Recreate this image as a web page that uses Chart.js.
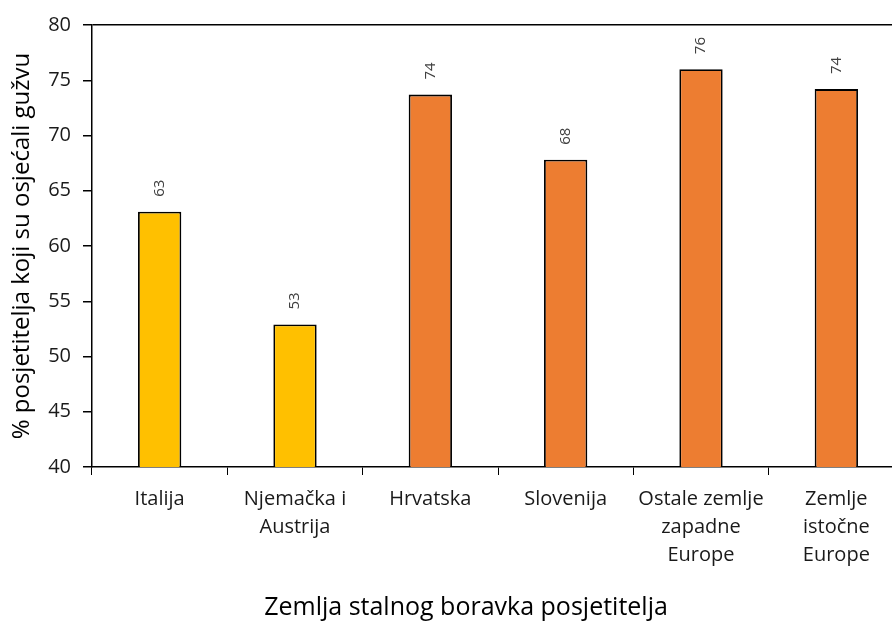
<!DOCTYPE html>
<html>
<head>
<meta charset="utf-8">
<script src="https://cdn.jsdelivr.net/npm/chart.js@4.4.0/dist/chart.umd.min.js"></script>
<style>
  html, body { margin: 0; padding: 0; background: #fff; overflow: hidden; }
  #wrap { width: 932px; height: 628px; }
</style>
</head>
<body>
<div id="wrap"><canvas id="grafikon"></canvas></div>
<script>
// kategorije (zemlja stalnog boravka)
const kategorije = [
  'Italija',
  ['Njemačka i', 'Austrija'],
  'Hrvatska',
  'Slovenija',
  ['Ostale zemlje', 'zapadne', 'Europe'],
  ['Zemlje', 'istočne', 'Europe']
];
// % posjetitelja koji su osjećali gužvu
const vrijednosti = [63.1, 52.9, 73.7, 67.8, 76.0, 74.2];
const oznake = ['63', '53', '74', '68', '76', '74'];
const boje = ['#FFC000', '#FFC000', '#ED7D31', '#ED7D31', '#ED7D31', '#ED7D31'];
const yTicks = [40, 45, 50, 55, 60, 65, 70, 75, 80];

const FONT = "'Open Sans', sans-serif";

// natpisi iznad stupaca, okrenuti za 90°
const natpisi = {
  id: 'natpisi',
  afterLayout(chart) {
    // naslov osi x malo desno, kao u originalu
    if (chart.titleBlock) {
      chart.titleBlock.left += 14;
      chart.titleBlock.right += 14;
    }
  },
  afterDatasetsDraw(chart) {
    const ctx = chart.ctx;
    const meta = chart.getDatasetMeta(0);
    ctx.save();
    ctx.font = '15px ' + FONT;
    ctx.fillStyle = '#404040';
    ctx.textAlign = 'left';
    ctx.textBaseline = 'middle';
    meta.data.forEach((bar, i) => {
      ctx.save();
      ctx.translate(bar.x, bar.y - 15);
      ctx.rotate(-Math.PI / 2);
      ctx.fillText(oznake[i], 0, 0);
      ctx.restore();
    });
    ctx.restore();
  }
};

new Chart(document.getElementById('grafikon'), {
  type: 'bar',
  data: {
    labels: kategorije,
    datasets: [{
      data: vrijednosti,
      backgroundColor: boje,
      borderColor: '#000',
      borderWidth: 1.8,
      categoryPercentage: 1,
      barPercentage: 0.32
    }]
  },
  options: {
    responsive: true,
    maintainAspectRatio: false,
    animation: false,
    layout: { padding: { top: 25, left: 0, right: 28, bottom: 0 } },
    plugins: {
      legend: { display: false },
      tooltip: { enabled: false },
      title: {
        display: true,
        position: 'bottom',
        text: 'Zemlja stalnog boravka posjetitelja',
        color: '#000',
        font: { family: FONT, size: 25, weight: 'normal', lineHeight: 1.2 },
        padding: { top: 0, bottom: 5 }
      }
    },
    scales: {
      x: {
        offset: true,
        grid: {
          offset: true,
          drawOnChartArea: false,
          tickLength: 8,
          tickColor: '#000'
        },
        border: { color: '#000', width: 1.5 },
        ticks: {
          color: '#1a1a1a',
          padding: 10,
          font: { family: FONT, size: 20, lineHeight: 1.4 }
        },
        afterFit(s) { s.height = 126; }
      },
      y: {
        min: 40,
        max: 80,
        afterBuildTicks(s) { s.ticks = yTicks.map(v => ({ value: v })); },
        grid: {
          color: c => (c.tick && c.tick.value === 80 ? '#000' : 'rgba(0,0,0,0)'),
          tickColor: '#000',
          tickLength: 9,
          lineWidth: 1.5
        },
        border: { color: '#000', width: 1.5 },
        ticks: {
          color: '#1a1a1a',
          padding: 12,
          font: { family: FONT, size: 20 }
        },
        title: {
          display: true,
          text: '% posjetitelja koji su osjećali gužvu',
          color: '#000',
          font: { family: FONT, size: 24, lineHeight: 1.2 },
          padding: { top: 8, bottom: 0 }
        },
        afterFit(s) { s.width = 92; }
      }
    }
  },
  plugins: [natpisi]
});
</script>
</body>
</html>
